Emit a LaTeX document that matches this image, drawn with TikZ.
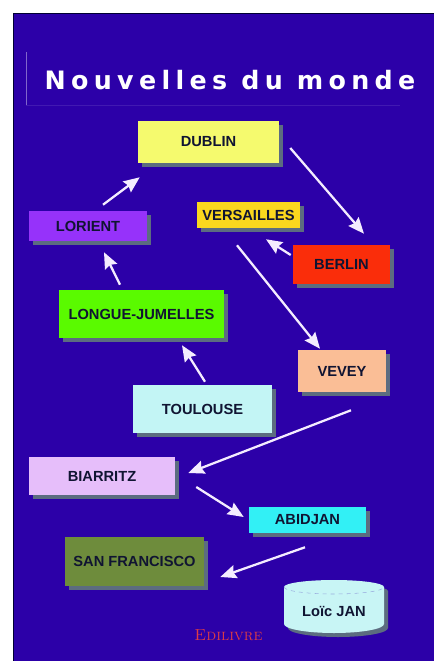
\documentclass[tikz,border=0pt]{standalone}
\usepackage{fontspec}
\setsansfont{Liberation Sans}
\newfontfamily\titlefont[LetterSpace=21]{DejaVu Sans}
\usetikzlibrary{arrows.meta,shadows}
\definecolor{panelblue}{RGB}{44,0,168}
\definecolor{shadowgrey}{RGB}{92,108,128}
\definecolor{inkdark}{RGB}{16,20,50}
\definecolor{arrowpale}{RGB}{244,236,255}
\definecolor{cylfill}{RGB}{200,245,245}
\tikzset{
  place/.style={draw=none,inner sep=0pt,text=inkdark,font=\sffamily\bfseries\fontsize{11}{13}\selectfont,
    drop shadow={shadow xshift=3.2pt,shadow yshift=-3.2pt,fill=shadowgrey,opacity=1}},
  sized/.style 2 args={minimum width=#1*0.75pt,minimum height=#2*0.75pt},
  flow/.style={draw=arrowpale,line width=1.7pt,-{Stealth[length=12pt,width=10pt,inset=1.5pt]}},
}
\begin{document}
\begin{tikzpicture}[x=0.75pt,y=-0.75pt]
\useasboundingbox (0,0) rectangle (434,661);
\fill[white] (0,0) rectangle (434,661);
\fill[panelblue] (13,13) rectangle (434,661);
\draw[black!80!blue,line width=0.6pt] (13,661) -- (13,13) -- (434,13);
\draw[panelblue!60!white,line width=0.5pt] (26,52) -- (26,105);
\draw[panelblue!90!white,line width=0.5pt] (26,105) -- (400,105);
\node[text=white,font=\titlefont\bfseries\fontsize{19}{23}\selectfont,inner sep=0pt] (title) at (230,80) {Nouvelles du monde};

\node[place,fill={rgb,255:red,245;green,250;blue,110},sized={141}{42}] (dublin) at (208.5,142) {DUBLIN};
\node[place,fill={rgb,255:red,250;green,215;blue,30},sized={103}{26}] (versailles) at (248.5,215) {VERSAILLES};
\node[place,fill={rgb,255:red,150;green,50;blue,250},sized={118}{30}] (lorient) at (88,226) {LORIENT};
\node[place,fill={rgb,255:red,250;green,45;blue,10},sized={97}{39}] (berlin) at (341.5,264.5) {BERLIN};
\node[place,fill={rgb,255:red,90;green,250;blue,0},sized={165}{48}] (longue) at (141.5,314) {LONGUE-JUMELLES};
\node[place,fill={rgb,255:red,250;green,190;blue,150},sized={88}{42}] (vevey) at (342,371) {VEVEY};
\node[place,fill={rgb,255:red,195;green,245;blue,245},sized={139}{48}] (toulouse) at (202.5,409) {TOULOUSE};
\node[place,fill={rgb,255:red,230;green,190;blue,250},sized={146}{38}] (biarritz) at (102,476) {BIARRITZ};
\node[place,fill={rgb,255:red,50;green,240;blue,245},sized={117}{26}] (abidjan) at (307.5,520) {ABIDJAN};
\node[place,fill={rgb,255:red,110;green,140;blue,60},sized={139}{49}] (sanfrancisco) at (134.5,561.5) {SAN FRANCISCO};

% cylinder
\fill[shadowgrey] (288,591) arc[x radius=50,y radius=7,start angle=180,end angle=360]
  -- (388,628) arc[x radius=50,y radius=9,start angle=0,end angle=180] -- cycle;
\fill[cylfill] (284,587) arc[x radius=50,y radius=7,start angle=180,end angle=360]
  -- (384,624) arc[x radius=50,y radius=9,start angle=0,end angle=180] -- cycle;
\draw[panelblue!30!cylfill,line width=0.4pt,dashed] (284,587) arc[x radius=50,y radius=7,start angle=180,end angle=0];
\node[text=inkdark,font=\sffamily\bfseries\fontsize{11}{13}\selectfont,inner sep=0pt] (loic) at (334,611) {Loïc JAN};

\node[text={rgb,255:red,220;green,60;blue,70},font=\fontsize{12}{14}\selectfont\scshape,inner sep=0pt] (edilivre) at (228.5,635) {Edilivre};

\draw[flow] ([shift={(15,-6)}]lorient.north) -- ([shift={(2,14)}]dublin.south west);
\draw[flow] ([shift={(11,6)}]dublin.east) -- ([shift={(22.5,-11)}]berlin.north);
\draw[flow] ([shift={(-2,-9.5)}]berlin.west) -- ([shift={(17.5,11)}]versailles.south);
\draw[flow] ([shift={(-11.5,17)}]versailles.south) -- ([shift={(-22,-1)}]vevey.north);
\draw[flow] ([shift={(-21.5,-5)}]longue.north) -- ([shift={(16,11)}]lorient.south);
\draw[flow] ([shift={(2.5,-3)}]toulouse.north) -- ([shift={(40.5,7)}]longue.south);
\draw[flow] ([shift={(9,18)}]vevey.south) -- ([shift={(13,-3)}]biarritz.east);
\draw[flow] ([shift={(21,11)}]biarritz.east) -- ([shift={(-5,-3)}]abidjan.west);
\draw[flow] ([shift={(-2.5,14)}]abidjan.south) -- ([shift={(16,15.5)}]sanfrancisco.east);
\end{tikzpicture}
\end{document}
